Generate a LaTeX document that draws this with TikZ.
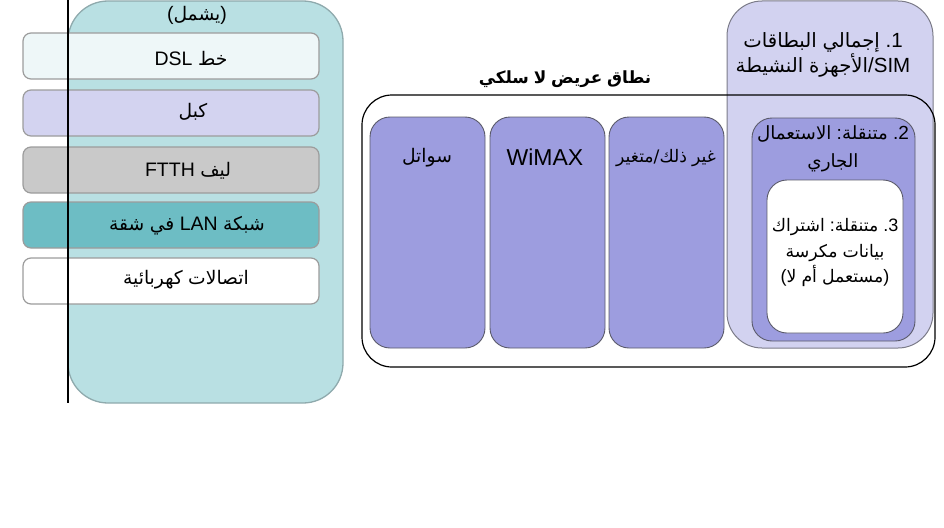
\documentclass[tikz,border=0pt]{standalone}
\usepackage{fontspec}
\setmainfont{Liberation Sans}
\newfontfamily\ar[Script=Arabic,Scale=0.96]{DejaVu Sans}
\definecolor{tealfill}{HTML}{B9E0E3}
\definecolor{tealdraw}{HTML}{8FAAAD}
\definecolor{rowdraw}{HTML}{9C9C9C}
\definecolor{dslfill}{HTML}{EEF7F8}
\definecolor{cabfill}{HTML}{D3D3F0}
\definecolor{fibfill}{HTML}{C9C9C9}
\definecolor{lanfill}{HTML}{6DBDC4}
\definecolor{colfill}{HTML}{9D9DDF}
\definecolor{simfill}{HTML}{D2D2F0}
\definecolor{coldraw}{HTML}{5A5A6A}
\tikzset{
  bx/.style={anchor=north west, inner sep=0pt, outer sep=0pt},
  tealbox/.style={bx, draw=tealdraw, fill=tealfill, line width=1.3pt, rounded corners=40pt},
  rowbox/.style={bx, draw=rowdraw, line width=1.2pt, rounded corners=8pt, minimum width=296pt, minimum height=46pt},
  colbox/.style={bx, draw=coldraw, fill=colfill, line width=0.9pt, rounded corners=20pt, minimum width=115pt, minimum height=231pt},
  txt/.style={inner sep=0pt, align=center, font=\fontsize{19.5}{24}\selectfont},
}
\begin{document}
\begin{tikzpicture}[x=1pt,y=-1pt]
\useasboundingbox (0,0) rectangle (944,527);
% left group
\node[tealbox, minimum width=275pt, minimum height=402pt] (inc) at (68,1) {};
\node[rowbox, fill=dslfill] (dsl) at (23,33) {};
\node[rowbox, fill=cabfill] (cab) at (23,90) {};
\node[rowbox, fill=fibfill] (fib) at (23,147) {};
\node[rowbox, fill=lanfill] (lan) at (23,202) {};
\node[rowbox, fill=white] (ele) at (23,258) {};
\coordinate (ltop) at (68,0);
\coordinate (lbot) at (68,403);
\draw[line width=1.5pt] (ltop) -- (lbot);
\node[txt] (inct) at (197,15) {({\ar يشمل})};
\node[txt] (dslt) at (191,58) {DSL {\ar خط}};
\node[txt] (cabt) at (193,112) {{\ar كبل}};
\node[txt] (fibt) at (188,171) {FTTH {\ar ليف}};
\node[txt] (lant) at (187,226) {{\ar شقة} {\ar في} LAN {\ar شبكة}};
\node[txt] (elet) at (186,280) {{\ar كهربائية} {\ar اتصالات}};
% SIM box
\node[bx, draw=coldraw!80, fill=simfill, line width=1pt, rounded corners=35pt, minimum width=206pt, minimum height=347pt] (sim) at (727,1) {};
% wireless outline
\node[bx, draw=black, line width=1.2pt, rounded corners=30pt, minimum width=573pt, minimum height=272pt] (wl) at (362,95) {};
\node[txt, font=\fontsize{17.5}{24}\selectfont\bfseries] (wlt) at (565,79) {{\ar سلكي} {\ar لا} {\ar عريض} {\ar نطاق}};
\node[colbox] (sat) at (370,117) {};
\node[colbox] (wim) at (490,117) {};
\node[colbox] (oth) at (609,117) {};
\node[txt] (satt) at (427,158) {{\ar سواتل}};
\node[txt, font=\fontsize{23}{24}\selectfont] (wimt) at (545,157) {WiMAX};
\node[txt, font=\fontsize{18}{24}\selectfont] (otht) at (666,158) {{\ar ذلك/متغير} {\ar غير}};
\node[txt, font=\fontsize{20.5}{24.5}\selectfont] (simt) at (823,55) {{\ar البطاقات} {\ar إجمالي} .1\\{\ar النشيطة} {\ar الأجهزة}/SIM};
\node[bx, draw=coldraw, fill=colfill, line width=0.9pt, rounded corners=20pt, minimum width=163pt, minimum height=223pt] (mob) at (752,118) {};
\node[txt, font=\fontsize{19}{28}\selectfont] (mobt) at (833,149) {{\ar الاستعمال} :{\ar متنقلة} .2\\{\ar الجاري}};
\node[bx, draw=coldraw, fill=white, line width=0.9pt, rounded corners=20pt, minimum width=136pt, minimum height=153pt] (ded) at (767,180) {};
\node[txt, font=\fontsize{18}{25.5}\selectfont] (dedt) at (835,253) {{\ar اشتراك} :{\ar متنقلة} .3\\{\ar مكرسة} {\ar بيانات}\\({\ar لا} {\ar أم} {\ar مستعمل})};
\end{tikzpicture}
\end{document}
